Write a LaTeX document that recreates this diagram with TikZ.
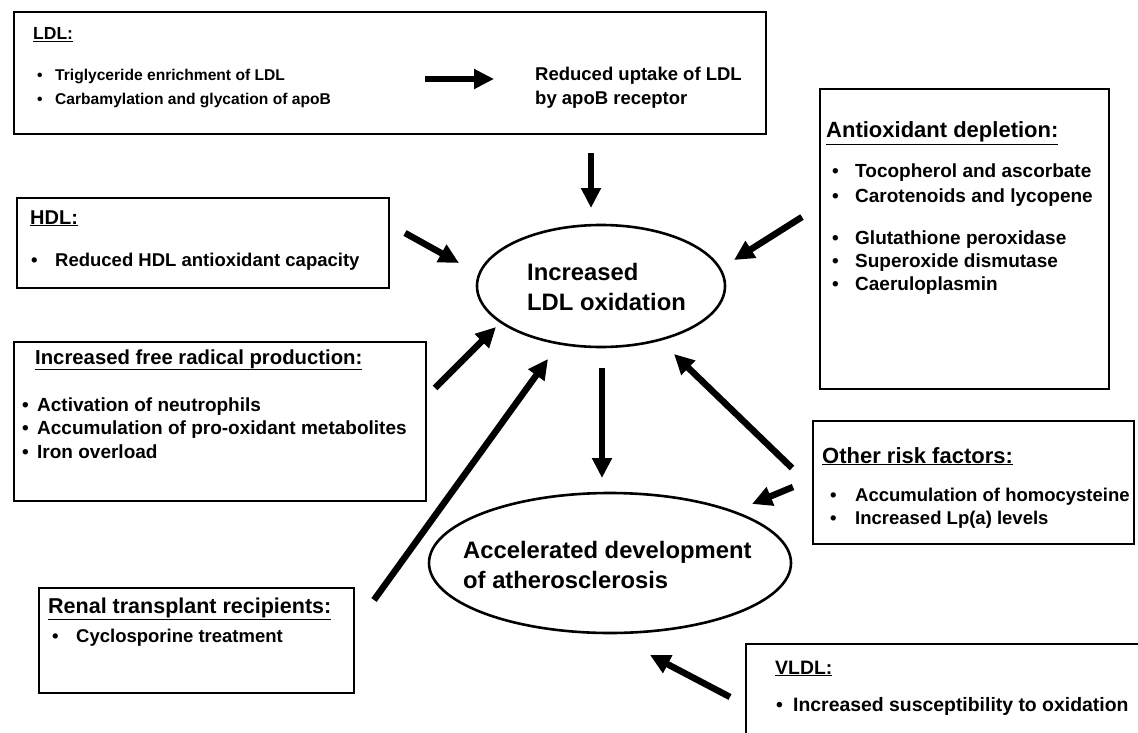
\documentclass[tikz,border=0pt]{standalone}
\usepackage{fontspec}
\setmainfont{Liberation Sans}[BoldFont={* Bold}]
\usetikzlibrary{arrows.meta,shapes.geometric}
\newcommand{\fs}[1]{\fontsize{#1}{#1}\selectfont\bfseries}
\tikzset{
  box/.style={draw, line width=2.4pt, anchor=north west, inner sep=0pt},
  txt/.style={anchor=base west, inner sep=0pt},
  oval/.style={draw, ellipse, line width=2.6pt, inner sep=0pt},
  fat/.style={line width=6.5pt, -{Triangle[length=20pt,width=19pt]}},
}
\begin{document}
\begin{tikzpicture}[x=1pt,y=-1pt]
\useasboundingbox (0,0) rectangle (1138,733);
% ---- LDL box
\node[box, minimum width=752pt, minimum height=122pt] (ldl) at (13,11) {};
\node[txt] (ldlt) at (33,40) {\fs{17.5}\underline{LDL:}};
\node[txt] (ldlb1d) at (37,81) {\fs{15.6}\textbullet};
\node[txt] (ldlb1) at (55,81) {\fs{15.6}Triglyceride enrichment of LDL};
\node[txt] (ldlb2d) at (37,105) {\fs{15.6}\textbullet};
\node[txt] (ldlb2) at (55,105) {\fs{15.6}Carbamylation and glycation of apoB};
\node[txt] (ldlr1) at (535,81) {\fs{18.5}Reduced uptake of LDL};
\node[txt] (ldlr2) at (535,105) {\fs{18.5}by apoB receptor};
\coordinate (ha) at (425,79);
\coordinate (hb) at (494,79);
\draw[fat] (ha) -- (hb);
% ---- HDL box
\node[box, minimum width=372pt, minimum height=90pt] (hdl) at (16,197) {};
\node[txt] (hdlt) at (30,224) {\fs{20}\underline{HDL:}};
\node[txt] (hdlbd) at (31,266) {\fs{18.5}\textbullet};
\node[txt] (hdlb) at (55,266) {\fs{18.5}Reduced HDL antioxidant capacity};
% ---- Free radical box
\node[box, minimum width=412pt, minimum height=159pt] (frp) at (13,341) {};
\node[txt] (frpt) at (35,364) {\fs{20.3}\underline{Increased free radical production:}};
\node[txt] (frpb1d) at (22,411) {\fs{19}\textbullet};
\node[txt] (frpb1) at (37,411) {\fs{19}Activation of neutrophils};
\node[txt] (frpb2d) at (22,434) {\fs{19}\textbullet};
\node[txt] (frpb2) at (37,434) {\fs{19}Accumulation of pro-oxidant metabolites};
\node[txt] (frpb3d) at (22,458) {\fs{19}\textbullet};
\node[txt] (frpb3) at (37,458) {\fs{19}Iron overload};
% ---- Renal box
\node[box, minimum width=315pt, minimum height=105pt] (ren) at (38,587) {};
\node[txt] (rent) at (48,613) {\fs{21.5}\underline{Renal transplant recipients:}};
\node[txt] (renbd) at (52,642) {\fs{18.5}\textbullet};
\node[txt] (renb) at (76,642) {\fs{18.5}Cyclosporine treatment};
% ---- Antioxidant box
\node[box, minimum width=289pt, minimum height=300pt] (aox) at (819,88) {};
\node[txt] (aoxt) at (826,138) {\fs{22}\underline{Antioxidant depletion:}};
\node[txt] (aox1d) at (832,178) {\fs{19}\textbullet};
\node[txt] (aox1) at (855,178) {\fs{19}Tocopherol and ascorbate};
\node[txt] (aox2d) at (832,202) {\fs{19}\textbullet};
\node[txt] (aox2) at (855,202) {\fs{19}Carotenoids and lycopene};
\node[txt] (aox3d) at (832,244) {\fs{19}\textbullet};
\node[txt] (aox3) at (855,244) {\fs{19}Glutathione peroxidase};
\node[txt] (aox4d) at (832,267) {\fs{19}\textbullet};
\node[txt] (aox4) at (855,267) {\fs{19}Superoxide dismutase};
\node[txt] (aox5d) at (832,290) {\fs{19}\textbullet};
\node[txt] (aox5) at (855,290) {\fs{19}Caeruloplasmin};
% ---- Other risk factors box
\node[box, minimum width=321pt, minimum height=123pt] (orf) at (812,420) {};
\node[txt] (orft) at (822,463) {\fs{22}\underline{Other risk factors:}};
\node[txt] (orf1d) at (830,501) {\fs{18.5}\textbullet};
\node[txt] (orf1) at (855,501) {\fs{18.5}Accumulation of homocysteine};
\node[txt] (orf2d) at (830,524) {\fs{18.5}\textbullet};
\node[txt] (orf2) at (855,524) {\fs{18.5}Increased Lp(a) levels};
% ---- VLDL box
\node[box, minimum width=400pt, minimum height=100pt] (vldl) at (745,643) {};
\node[txt] (vldlt) at (775,674) {\fs{19.4}\underline{VLDL:}};
\node[txt] (vldlbd) at (776,711) {\fs{19.4}\textbullet};
\node[txt] (vldlb) at (793,711) {\fs{19.4}Increased susceptibility to oxidation};
% ---- Ellipses
\node[oval, minimum width=248pt, minimum height=122pt] (e1) at (601,286) {};
\node[txt] (e1a) at (527,280) {\fs{23.8}Increased};
\node[txt] (e1b) at (527,310) {\fs{23.8}LDL oxidation};
\node[oval, minimum width=362pt, minimum height=140pt] (e2) at (610,563) {};
\node[txt] (e2a) at (463,558) {\fs{23.8}Accelerated development};
\node[txt] (e2b) at (463,588) {\fs{23.8}of atherosclerosis};
% ---- Arrows
\coordinate (a1s) at (591,153); \coordinate (a1e) at (591,208);
\coordinate (a2s) at (405,233); \coordinate (a2e) at (459,263);
\coordinate (a3s) at (802,217); \coordinate (a3e) at (734,260);
\coordinate (a4s) at (435,388); \coordinate (a4e) at (496,327);
\coordinate (a5s) at (374,600); \coordinate (a5e) at (548,359);
\coordinate (a6s) at (602,368); \coordinate (a6e) at (602,478);
\coordinate (a7s) at (792,468); \coordinate (a7e) at (674,354);
\coordinate (a8s) at (793,487); \coordinate (a8e) at (752,504);
\coordinate (a9s) at (730,697); \coordinate (a9e) at (650,655);
\draw[fat] (a1s) -- (a1e);
\draw[fat] (a2s) -- (a2e);
\draw[fat] (a3s) -- (a3e);
\draw[fat] (a4s) -- (a4e);
\draw[fat] (a5s) -- (a5e);
\draw[fat] (a6s) -- (a6e);
\draw[fat] (a7s) -- (a7e);
\draw[fat] (a8s) -- (a8e);
\draw[fat] (a9s) -- (a9e);
\end{tikzpicture}
\end{document}
